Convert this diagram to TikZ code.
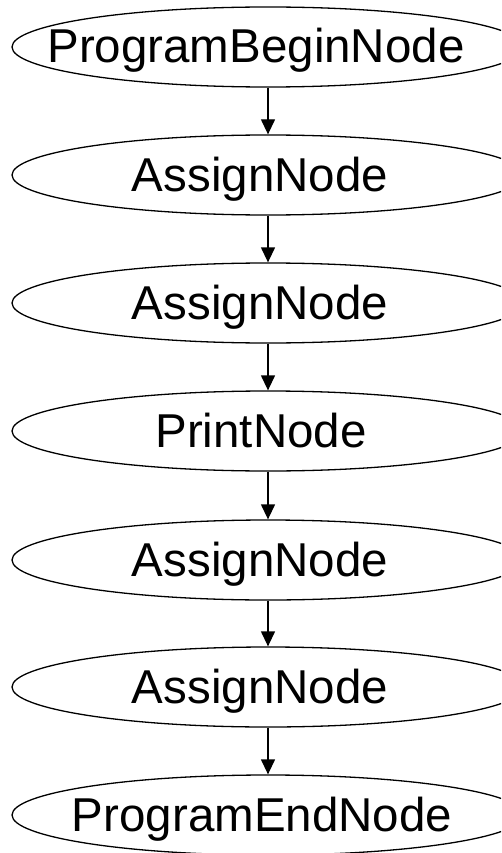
\documentclass[tikz,border=0pt]{standalone}
\usepackage{fontspec}
\setmainfont{Liberation Sans}
\usetikzlibrary{shapes.geometric,arrows.meta}
\begin{document}
\begin{tikzpicture}[x=1pt,y=1pt,
  ell/.style={draw, line width=1.3pt, ellipse, minimum width=512pt, minimum height=80pt, inner sep=0pt},
  lbl/.style={anchor=base, inner sep=0pt, font=\fontsize{47.5}{50}\selectfont},
  flow/.style={line width=1.3pt, -{Triangle[length=15pt,width=14pt]}}]
\useasboundingbox (0,0) rectangle (501,-853);
\clip (0,0) rectangle (501,-853);
\node[ell] (n1) at (268,-47) {};
\node[ell] (n2) at (268,-175) {};
\node[ell] (n3) at (268,-303) {};
\node[ell] (n4) at (268,-431) {};
\node[ell] (n5) at (268,-560) {};
\node[ell] (n6) at (268,-687) {};
\node[ell] (n7) at (268,-815) {};
\node[lbl] (t1) at (256,-63) {ProgramBeginNode};
\node[lbl] (t2) at (260,-191) {AssignNode};
\node[lbl] (t3) at (260,-319) {AssignNode};
\node[lbl] (t4) at (261,-447) {PrintNode};
\node[lbl] (t5) at (260,-576) {AssignNode};
\node[lbl] (t6) at (260,-703) {AssignNode};
\node[lbl] (t7) at (262,-831) {ProgramEndNode};
\draw[flow] (n1.south) -- (n2.north);
\draw[flow] (n2.south) -- (n3.north);
\draw[flow] (n3.south) -- (n4.north);
\draw[flow] (n4.south) -- (n5.north);
\draw[flow] (n5.south) -- (n6.north);
\draw[flow] (n6.south) -- (n7.north);
\end{tikzpicture}
\end{document}
